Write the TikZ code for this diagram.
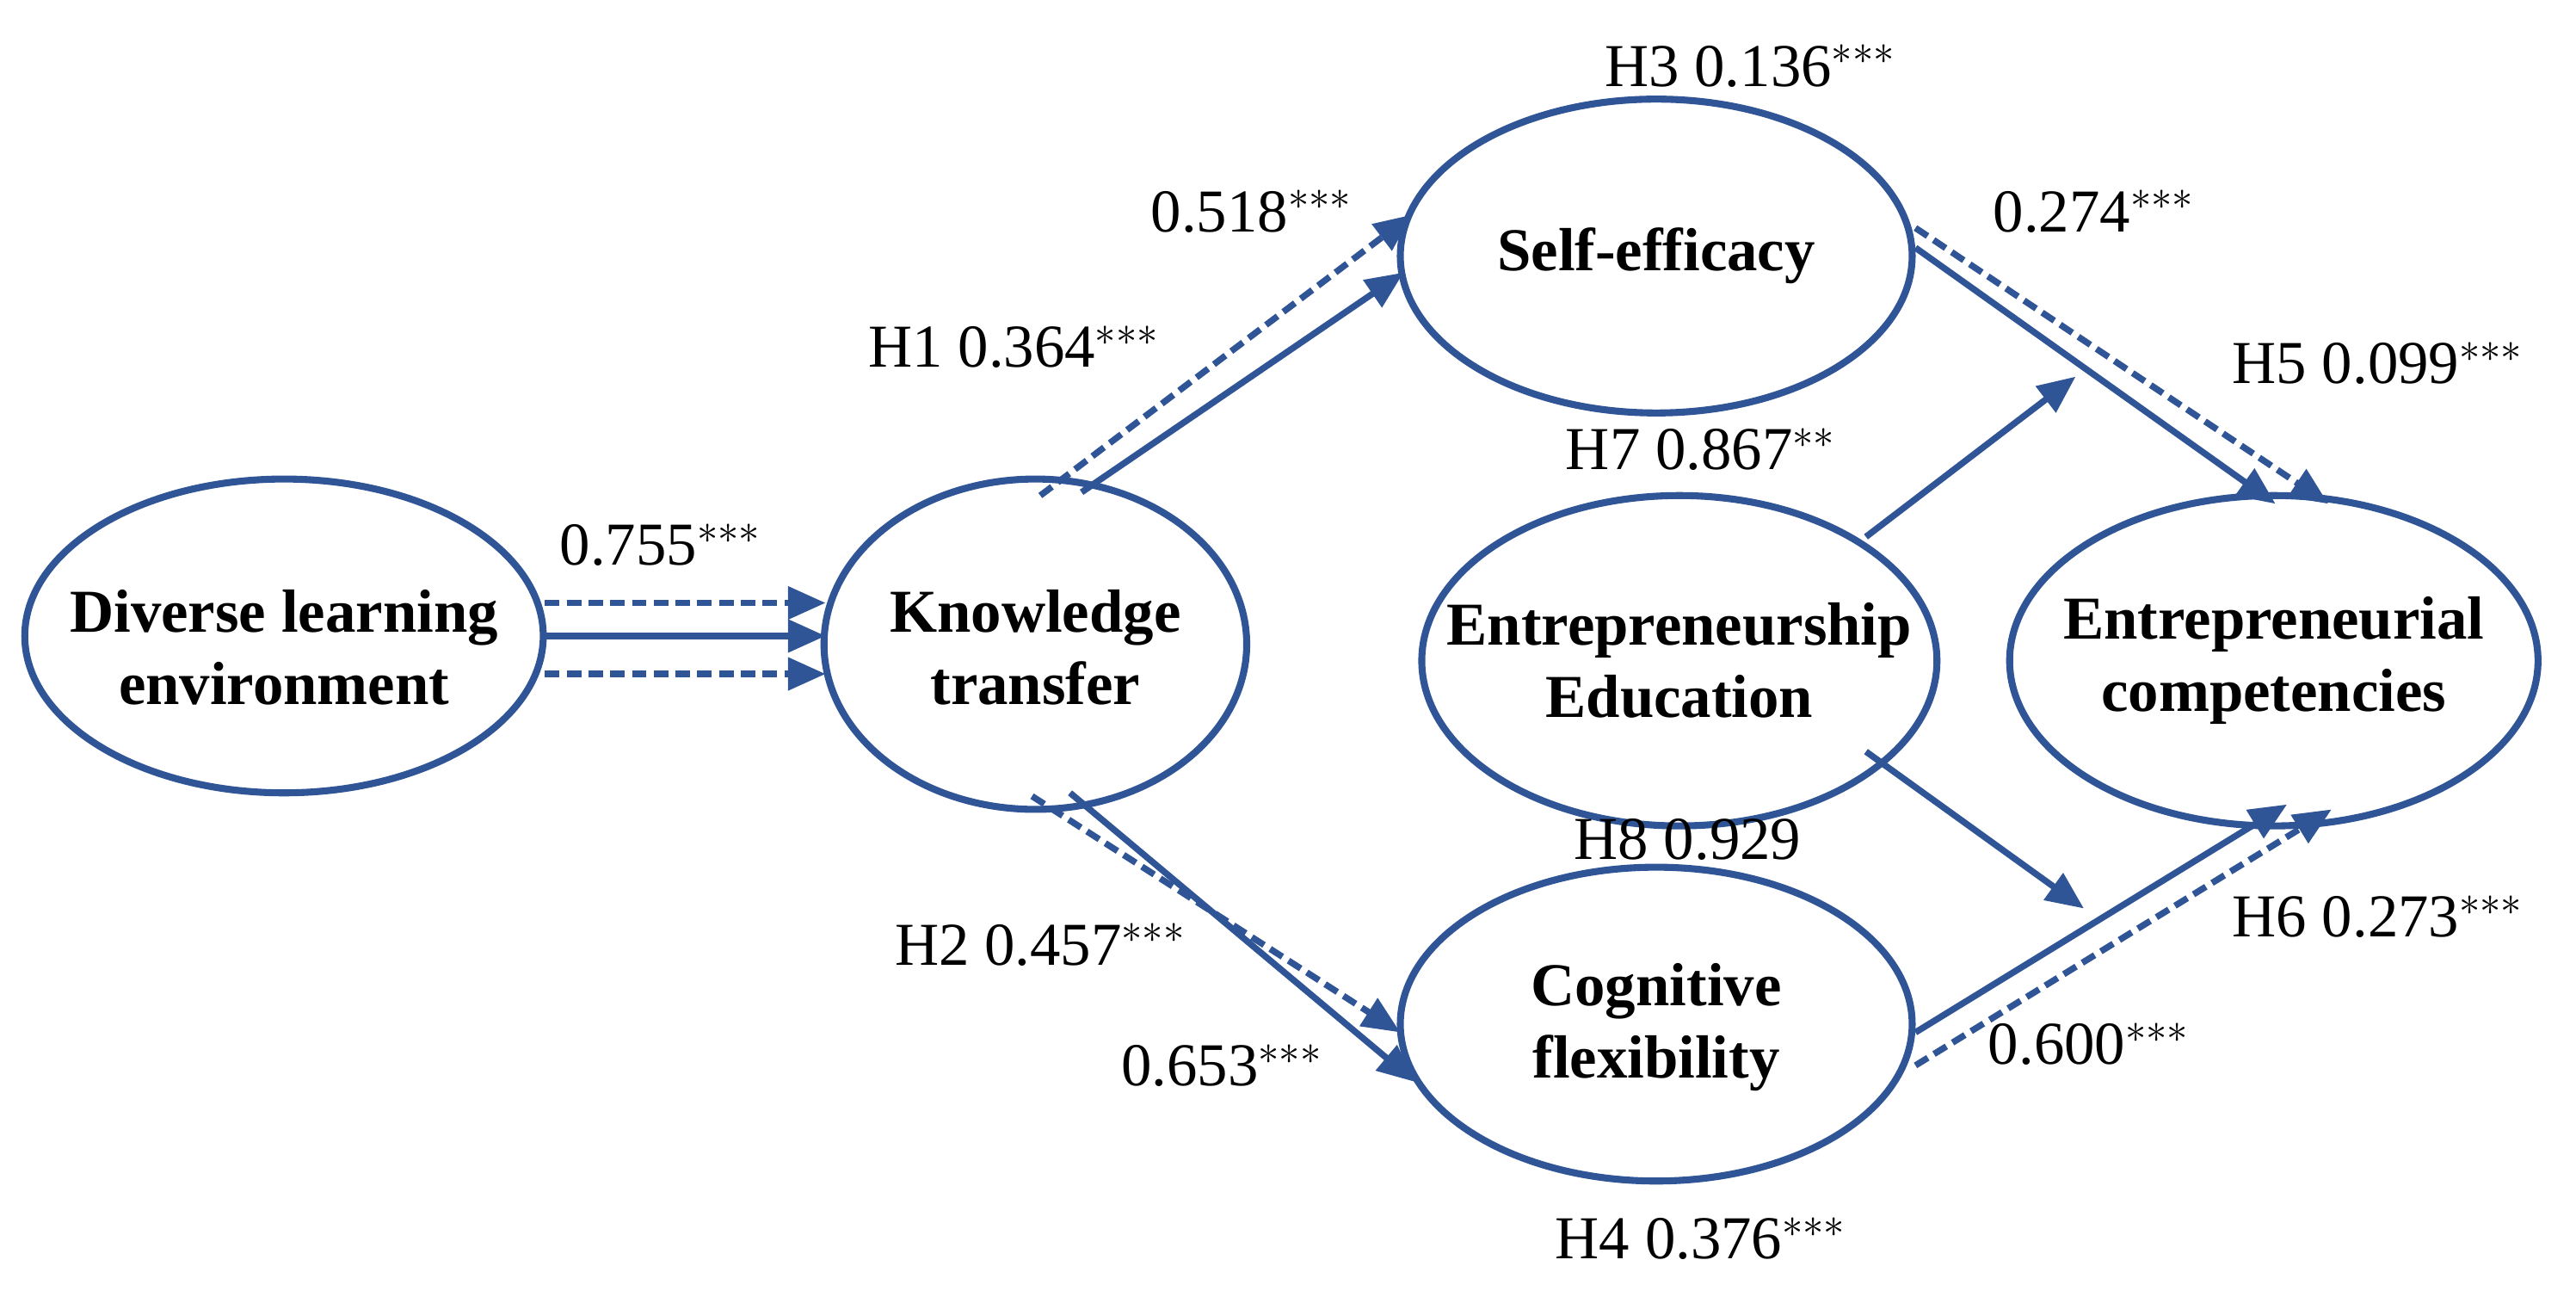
\documentclass[tikz,border=0pt]{standalone}
\usepackage{fontspec}
\setmainfont{Liberation Serif}
\usetikzlibrary{arrows.meta}
\definecolor{lb}{HTML}{2F5597}
\tikzset{
  ellline/.style={draw=lb,line width=2.4pt},
  ell/.style={font=\bfseries\fontsize{21}{25}\selectfont,align=center,inner sep=0pt},
  sol/.style={draw=lb,line width=2.2pt,-{Triangle[length=13pt,width=11pt]}},
  dsh/.style={draw=lb,line width=2.2pt,dashed,dash pattern=on 5pt off 2.5pt,-{Triangle[length=13pt,width=11pt]}},
  lab/.style={font=\fontsize{21}{25}\selectfont}
}
\begin{document}
\begin{tikzpicture}[x=0.02cm,y=-0.02cm]
\useasboundingbox (0,0) rectangle (1560,785);
\draw[ellline] (172,385) ellipse [x radius=157,y radius=95];
\draw[ellline] (627,390) ellipse [x radius=128,y radius=100];
\draw[ellline] (1003,155) ellipse [x radius=155,y radius=95];
\draw[ellline] (1017,400) ellipse [x radius=156,y radius=100];
\draw[ellline] (1003,620) ellipse [x radius=155,y radius=95];
\draw[ellline] (1377,400) ellipse [x radius=160,y radius=100];
\node[ell] (dl) at (172,392) {Diverse learning\\environment};
\node[ell] (kt) at (627,392) {Knowledge\\transfer};
\node[ell] (se) at (1003,155) {Self-efficacy};
\node[ell] (ee) at (1017,400) {Entrepreneurship\\Education};
\node[ell] (cf) at (1003,622) {Cognitive\\flexibility};
\node[ell] (ec) at (1377,400) {Entrepreneurial\\competencies};
% DL -> KT
\coordinate (a1) at (330,365); \coordinate (b1) at (500,365);
\coordinate (a2) at (330,385); \coordinate (b2) at (500,385);
\coordinate (a3) at (330,408); \coordinate (b3) at (500,408);
\draw[dsh] (a1) -- (b1);
\draw[sol] (a2) -- (b2);
\draw[dsh] (a3) -- (b3);
% KT -> SE
\coordinate (k1) at (630,300); \coordinate (s1) at (855,130);
\coordinate (k2) at (655,298); \coordinate (s2) at (850,165);
\draw[dsh] (k1) -- (s1);
\draw[sol] (k2) -- (s2);
% KT -> CF
\coordinate (k3) at (648,480); \coordinate (c3) at (857,655);
\coordinate (k4) at (625,482); \coordinate (c4) at (848,625);
\draw[sol] (k3) -- (c3);
\draw[dsh] (k4) -- (c4);
% SE -> EC
\coordinate (s5) at (1160,150); \coordinate (e5) at (1378,305);
\coordinate (s6) at (1160,138); \coordinate (e6) at (1410,305);
\draw[sol] (s5) -- (e5);
\draw[dsh] (s6) -- (e6);
% CF -> EC
\coordinate (c7) at (1160,625); \coordinate (e7) at (1385,487);
\coordinate (c8) at (1160,645); \coordinate (e8) at (1412,490);
\draw[sol] (c7) -- (e7);
\draw[dsh] (c8) -- (e8);
% EE moderation
\coordinate (m1) at (1130,325); \coordinate (n1) at (1257,228);
\coordinate (m2) at (1130,455); \coordinate (n2) at (1262,550);
\draw[sol] (m1) -- (n1);
\draw[sol] (m2) -- (n2);
% labels
\node[lab] (l1) at (400,330) {0.755$^{***}$};
\node[lab] (l2) at (758,128) {0.518$^{***}$};
\node[lab] (l3) at (614,210) {H1 0.364$^{***}$};
\node[lab] (l4) at (1060,40) {H3 0.136$^{***}$};
\node[lab] (l5) at (1268,128) {0.274$^{***}$};
\node[lab] (l6) at (1440,220) {H5 0.099$^{***}$};
\node[lab] (l7) at (1030,272) {H7 0.867$^{**}$};
\node[lab] (l8) at (1022,508) {H8 0.929};
\node[lab] (l9) at (1440,555) {H6 0.273$^{***}$};
\node[lab] (l10) at (630,572) {H2 0.457$^{***}$};
\node[lab] (l11) at (740,645) {0.653$^{***}$};
\node[lab] (l12) at (1265,632) {0.600$^{***}$};
\node[lab] (l13) at (1030,750) {H4 0.376$^{***}$};
\end{tikzpicture}
\end{document}
